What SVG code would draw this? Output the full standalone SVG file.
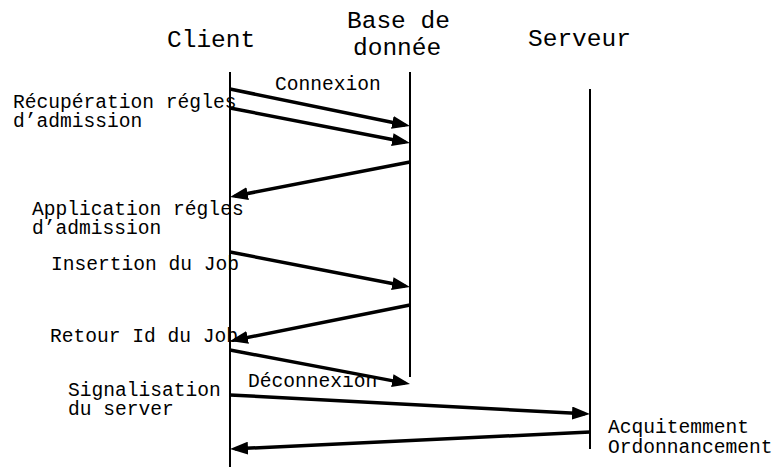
<svg xmlns="http://www.w3.org/2000/svg" width="773" height="467" viewBox="0 0 773 467">
<style>
  .title{font-family:"Liberation Mono","Courier New",monospace;font-size:24.5px;fill:#000}
  .lbl{font-family:"Liberation Mono","Courier New",monospace;font-size:19.6px;fill:#000}
  .life{stroke:#000;stroke-width:2;fill:none}
  .msg{stroke:#000;stroke-width:3.5;fill:none;marker-end:url(#ah)}
</style>
<defs>
  <marker id="ah" markerUnits="userSpaceOnUse" markerWidth="18" markerHeight="13" refX="13" refY="6.5" orient="auto">
    <path d="M0,0 L18,6.5 L0,13 z" fill="#000"/>
  </marker>
</defs>
<rect width="773" height="467" fill="#fff"/>
<g id="client">
  <text class="title" x="167" y="47">Client</text>
  <line class="life" x1="230" y1="72" x2="230" y2="467"/>
</g>
<g id="database">
  <text class="title" x="347" y="28">Base de</text>
  <text class="title" x="353" y="55">donnée</text>
  <line class="life" x1="410" y1="72" x2="410" y2="377"/>
</g>
<g id="server">
  <text class="title" x="528" y="46">Serveur</text>
  <line class="life" x1="590" y1="89" x2="590" y2="449"/>
</g>
<g id="connectors">
  <line class="msg" x1="230" y1="89" x2="405.1" y2="125"/>
  <line class="msg" x1="230" y1="108" x2="405.1" y2="142"/>
  <line class="msg" x1="410" y1="162" x2="234.9" y2="196"/>
  <line class="msg" x1="230" y1="252" x2="405.1" y2="286"/>
  <line class="msg" x1="410" y1="305" x2="234.9" y2="340"/>
  <line class="msg" x1="230" y1="350" x2="405.1" y2="383.1"/>
  <line class="msg" x1="230" y1="395" x2="585" y2="413.7"/>
  <line class="msg" x1="590" y1="432" x2="235" y2="448.8"/>
</g>
<g id="labels">
  <text class="lbl" x="275" y="90">Connexion</text>
  <text class="lbl" x="13" y="108">Récupération régles</text>
  <text class="lbl" x="13" y="127">d’admission</text>
  <text class="lbl" x="32" y="215">Application régles</text>
  <text class="lbl" x="32" y="234">d’admission</text>
  <text class="lbl" x="51" y="270">Insertion du Job</text>
  <text class="lbl" x="50" y="342">Retour Id du Job</text>
  <text class="lbl" x="248" y="387">Déconnexion</text>
  <text class="lbl" x="68" y="396">Signalisation</text>
  <text class="lbl" x="68" y="415">du server</text>
  <text class="lbl" x="608" y="433">Acquitemment</text>
  <text class="lbl" x="608" y="453">Ordonnancement</text>
</g>
</svg>
